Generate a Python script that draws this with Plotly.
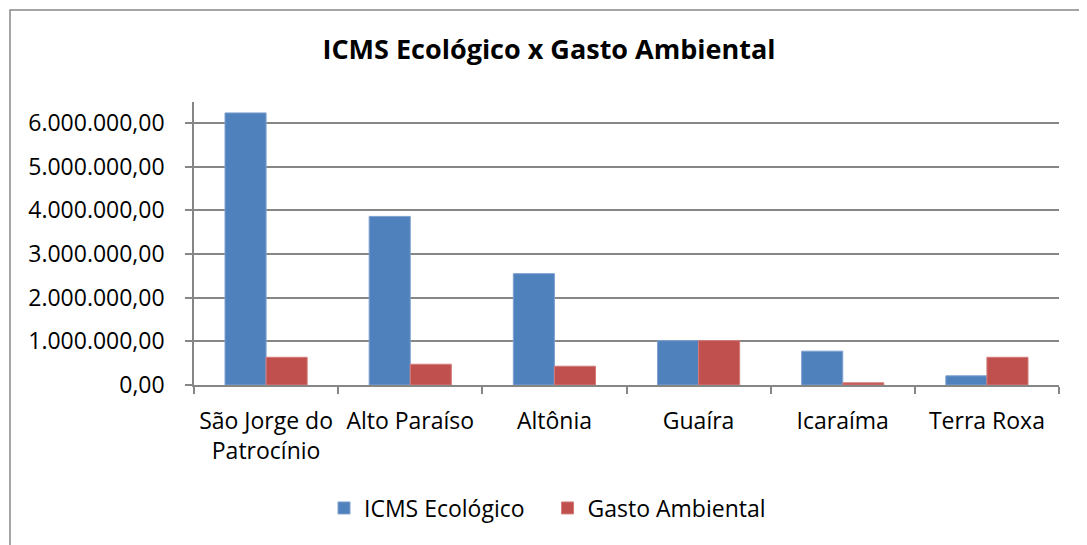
import plotly.graph_objects as go

categories = ["São Jorge do<br>Patrocínio", "Alto Paraíso", "Altônia", "Guaíra", "Icaraíma", "Terra Roxa"]
icms_ecologico = [6230000, 3860000, 2550000, 1015000, 775000, 210000]
gasto_ambiental = [635000, 475000, 430000, 1015000, 50000, 635000]
y_ticks = [0, 1000000, 2000000, 3000000, 4000000, 5000000, 6000000]

OFF = 8  # browser body margin
W, H = 1087 - OFF, 545 - OFF
# plot area in page pixels
L, R, T, B = 194, 1059, 102, 385
FONT = "Open Sans"
NB = "\u00a0"

fig = go.Figure()
fig.add_trace(go.Bar(x=categories, y=icms_ecologico, name="ICMS Ecológico" + NB * 3,
                     marker=dict(color="#4F81BD", line=dict(color="#7EA0CF", width=1))))
fig.add_trace(go.Bar(x=categories, y=gasto_ambiental, name="Gasto Ambiental",
                     marker=dict(color="#C0504D", line=dict(color="#D47C7A", width=1))))

def px2x(p):
    return (p - L) / (R - L)

def py2y(p):
    return (B - p) / (B - T)

def cx(p):
    return (p - OFF) / W

def cy(p):
    return 1 - (p - OFF) / H

fig.update_layout(
    width=W, height=H,
    margin=dict(l=L - OFF, r=1087 - R, t=T - OFF, b=545 - B, pad=0),
    paper_bgcolor="white", plot_bgcolor="white",
    separators=",.",
    font=dict(family=FONT, size=23, color="#000000"),
    title=dict(text="<b>ICMS Ecológico x Gasto Ambiental</b>", x=cx(549), xanchor="center",
               y=cy(50), yanchor="middle", yref="container", xref="container",
               font=dict(family=FONT, size=27, color="#000000")),
    bargap=0.43, bargroupgap=0,
    showlegend=True,
    legend=dict(orientation="h", x=cx(324), xanchor="left", xref="container",
                y=cy(508), yanchor="middle", yref="container",
                font=dict(family=FONT, size=23), itemwidth=30, traceorder="normal"),
    xaxis=dict(type="category", showline=True, linecolor="#868686", linewidth=1.5,
               ticks="outside", tickson="boundaries", ticklen=7, tickcolor="#868686",
               tickwidth=1.5, showgrid=False, tickfont=dict(family=FONT, size=23),
               ticklabelstandoff=15, mirror=False),
    yaxis=dict(range=[0, 6480000], tickvals=y_ticks, tickformat=",.2f",
               showline=True, linecolor="#868686", linewidth=1.5,
               ticks="outside", ticklen=7, tickcolor="#868686", tickwidth=1.5,
               showgrid=True, gridcolor="#868686", gridwidth=1.5,
               zeroline=False, ticklabelstandoff=16,
               tickfont=dict(family=FONT, size=23)),
    shapes=[dict(type="rect", xref="paper", yref="paper",
                 x0=px2x(10), x1=px2x(1110), y0=py2y(570), y1=py2y(10),
                 line=dict(color="#888888", width=1.5), fillcolor="rgba(0,0,0,0)",
                 layer="below")],
)

fig.write_html("out.html")
